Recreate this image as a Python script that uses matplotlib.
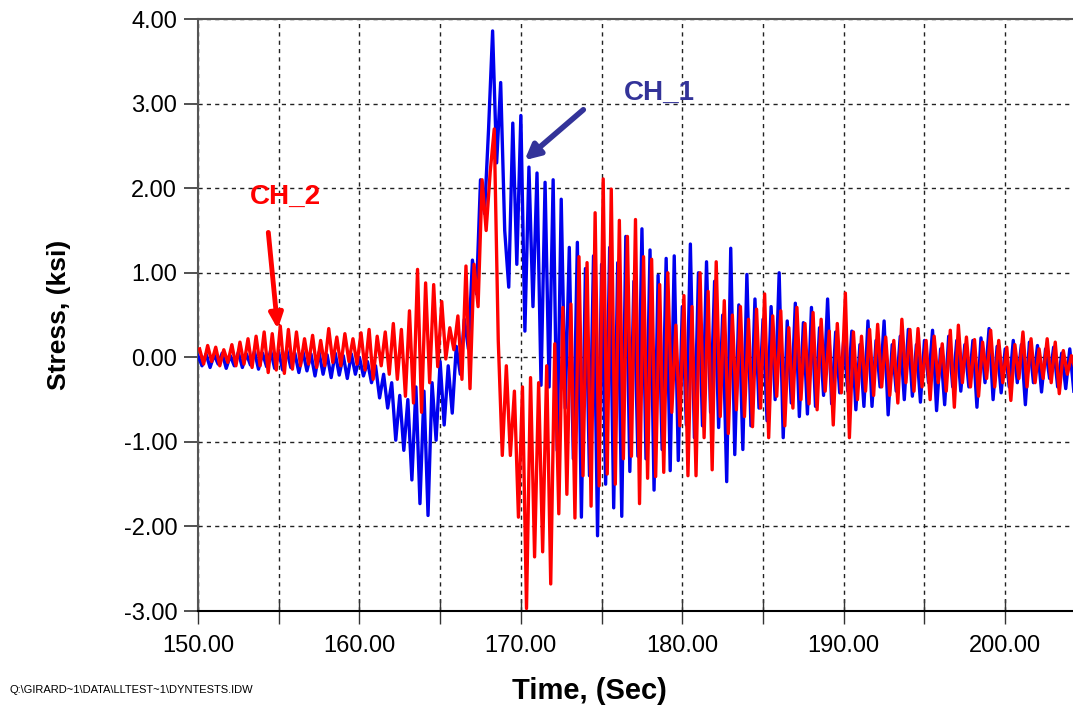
import numpy as np
import matplotlib
matplotlib.use("Agg")
import matplotlib.pyplot as plt
from matplotlib.ticker import MultipleLocator, FormatStrFormatter

plt.rcParams['font.family'] = ['Liberation Sans', 'DejaVu Sans']

# sample grid of the recorder (sec)
t0_ch1 = 150.0
t0_ch2 = 150.1
dt = 0.25

# CH_1 stress (ksi)
ch1 = [0.02, -0.10, 0.04, -0.12, 0.03, -0.08, 0.05, -0.13,
       0.02, -0.10, 0.06, -0.12, 0.04, -0.09, 0.07, -0.14,
       0.05, -0.11, 0.08, -0.13, 0.06, -0.15, 0.09, -0.12,
       0.05, -0.18, 0.07, -0.16, 0.04, -0.22, 0.06, -0.20,
       0.03, -0.24, 0.05, -0.21, 0.02, -0.25, 0.04, -0.20,
       0.00, -0.22, -0.05, -0.30, -0.10, -0.48, -0.20, -0.60,
       -0.30, -0.98, -0.45, -1.10, -0.50, -1.45, -0.35, -1.73,
       -0.40, -1.87, -0.30, -0.98, -0.05, -0.80, -0.10, -0.66,
       0.13, -0.20, 0.45, 0.10, 1.15, 0.75, 2.10, 1.70,
       2.70, 3.86, 2.30, 3.25, 1.50, 0.83, 2.77, 1.10,
       2.86, 0.31, 2.25, 0.60, 2.18, -0.33, 2.07, -0.35,
       2.10, -1.10, 1.87, -0.60, 1.30, -1.20, 1.36, -1.89,
       1.05, -1.40, 1.20, -2.11, 1.10, -1.50, 1.30, -1.78,
       1.12, -1.88, 1.43, -1.35, 0.90, -1.17, 1.52, -1.20,
       1.27, -1.57, 0.97, -1.09, 1.17, -1.34, 1.20, -1.22,
       0.60, -0.80, 1.34, -0.95, 1.00, -0.81, 1.13, -0.65,
       0.90, -0.83, 0.50, -1.47, 1.29, -1.15, 0.62, -1.09,
       0.98, -0.81, 0.69, -0.60, 0.45, -0.75, 0.60, -0.50,
       1.00, -0.95, 0.43, -0.54, 0.64, -0.70, 0.41, -0.67,
       0.59, -0.58, 0.35, -0.45, 0.69, -0.55, 0.30, -0.42,
       0.21, -0.40, 0.31, -0.62, 0.15, -0.58, 0.43, -0.58,
       0.20, -0.35, 0.43, -0.68, 0.15, -0.40, 0.25, -0.50,
       0.33, -0.46, 0.15, -0.53, 0.20, -0.30, 0.32, -0.63,
       0.10, -0.56, 0.25, -0.35, 0.20, -0.40, 0.15, -0.35,
       0.20, -0.59, 0.23, -0.30, 0.34, -0.50, 0.13, -0.42,
       0.10, -0.35, 0.20, -0.30, 0.15, -0.56, 0.18, -0.30,
       0.14, -0.41, 0.10, -0.25, 0.12, -0.35, 0.05, -0.37,
       0.10, -0.40]

# CH_2 stress (ksi)
ch2 = [0.10, -0.08, 0.14, -0.05, 0.12, -0.10, 0.09, -0.06,
       0.15, -0.10, 0.18, -0.08, 0.22, -0.12, 0.25, -0.10,
       0.30, -0.18, 0.28, -0.15, 0.37, -0.19, 0.33, -0.14,
       0.30, -0.10, 0.22, -0.08, 0.26, -0.12, 0.20, -0.10,
       0.34, -0.06, 0.24, -0.10, 0.28, -0.05, 0.22, -0.08,
       0.29, -0.15, 0.33, -0.26, 0.25, -0.10, 0.30, -0.20,
       0.40, -0.26, 0.33, -0.46, 0.55, -0.54, 1.04, -0.65,
       0.88, -0.30, 0.86, -0.11, 0.66, -0.02, 0.35, 0.09,
       0.49, -0.26, 1.08, -0.37, 1.10, 0.60, 2.10, 1.50,
       2.19, 2.70, 0.20, -1.16, -0.10, -1.16, -0.40, -1.89,
       -0.35, -2.97, -0.24, -2.36, -0.30, -2.30, -0.10, -2.68,
       0.16, -1.85, 0.59, -1.62, 0.63, -1.90, 1.19, -1.40,
       1.12, -1.76, 1.71, -1.52, 2.11, -1.38, 1.99, -1.50,
       1.62, -1.20, 1.43, -1.17, 1.63, -1.73, 1.19, -1.43,
       1.16, -1.41, 0.86, -1.36, 1.00, -0.65, 0.38, -0.81,
       0.73, -1.40, 0.60, -1.40, 1.00, -0.95, 0.78, -1.33,
       1.13, -0.70, 0.67, -0.90, 0.50, -0.62, 0.60, -0.70,
       0.45, -0.82, 0.57, -0.60, 0.75, -0.95, 0.49, -0.46,
       0.55, -0.81, 0.35, -0.60, 0.59, -0.50, 0.40, -0.55,
       0.53, -0.62, 0.45, -0.40, 0.31, -0.80, 0.40, -0.42,
       0.76, -0.95, 0.30, -0.50, 0.25, -0.40, 0.33, -0.45,
       0.39, -0.35, 0.24, -0.45, 0.20, -0.54, 0.45, -0.30,
       0.33, -0.40, 0.34, -0.35, 0.20, -0.50, 0.25, -0.30,
       0.16, -0.40, 0.32, -0.59, 0.38, -0.30, 0.24, -0.35,
       0.21, -0.46, 0.18, -0.25, 0.32, -0.35, 0.20, -0.30,
       0.12, -0.51, 0.15, -0.25, 0.30, -0.35, 0.22, -0.30,
       0.10, -0.25, 0.22, -0.30, 0.18, -0.43, 0.08, -0.20,
       0.02, -0.15]

t1 = t0_ch1 + dt * np.arange(len(ch1))
t2 = t0_ch2 + dt * np.arange(len(ch2))

fig = plt.figure(figsize=(10.73, 7.08), dpi=100)
ax = fig.add_axes([0.1845, 0.137, 0.8155, 0.836])

ax.plot(t1, ch1, color="#0000EE", lw=2.4, zorder=3)
ax.plot(t2, ch2, color="#FF0000", lw=2.4, zorder=4)

ax.set_xlim(150, 204.2)
ax.set_ylim(-3, 4)
ax.xaxis.set_major_locator(MultipleLocator(10))
ax.xaxis.set_minor_locator(MultipleLocator(5))
ax.yaxis.set_major_locator(MultipleLocator(1))
ax.xaxis.set_major_formatter(FormatStrFormatter('%.2f'))
ax.yaxis.set_major_formatter(FormatStrFormatter('%.2f'))

ax.set_axisbelow(True)
ax.grid(True, which='both', axis='x', color='#222222', linestyle=(0, (3, 3)), lw=1.0)
ax.grid(True, which='major', axis='y', color='#222222', linestyle=(0, (3, 3)), lw=1.0)

ax.spines['right'].set_visible(False)
for s in ['left', 'bottom', 'top']:
    ax.spines[s].set_color('#555555')
    ax.spines[s].set_linewidth(1.5)
ax.spines['bottom'].set_color('black')

ax.tick_params(axis='y', direction='out', length=10, width=1.2, color='#333333',
               labelsize=17, pad=5)
ax.tick_params(axis='x', which='both', direction='inout', length=18, width=1.0,
               color='#333333', labelsize=17, pad=8)

ax.set_ylabel("Stress, (ksi)", fontsize=19, fontweight='bold', labelpad=38)
ax.set_xlabel("Time, (Sec)", fontsize=21, fontweight='bold', labelpad=15,
              x=0.447)

# channel labels with arrows
ax.text(178.6, 3.13, "CH_1", color="#333399", fontsize=20, fontweight='bold',
        ha='center', va='center')
ax.annotate("", xy=(170.1, 2.31), xytext=(174.0, 2.95),
            arrowprops=dict(arrowstyle="-|>,head_length=0.9,head_width=0.45",
                            color="#333399", lw=4))
ax.text(155.4, 1.90, "CH_2", color="#FF0000", fontsize=20, fontweight='bold',
        ha='center', va='center')
ax.annotate("", xy=(154.96, 0.30), xytext=(154.34, 1.51),
            arrowprops=dict(arrowstyle="-|>,head_length=0.9,head_width=0.4",
                            color="#FF0000", lw=3.5))

fig.text(0.009, 0.025, r"Q:\GIRARD~1\DATA\LLTEST~1\DYNTESTS.IDW", fontsize=8,
         ha='left', va='center')

fig.savefig("out.png", dpi=100)
